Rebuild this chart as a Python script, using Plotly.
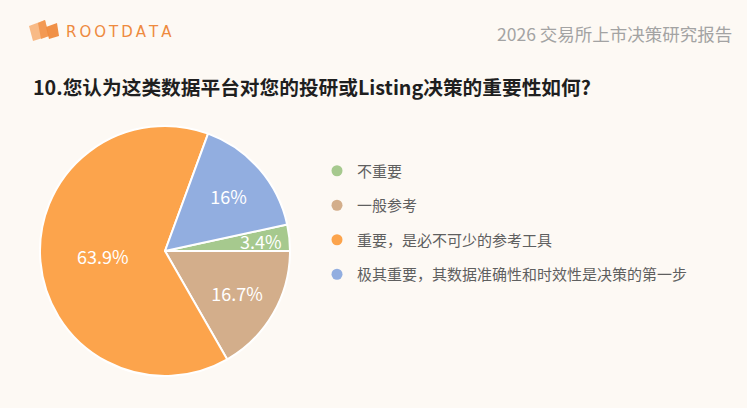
import math
import plotly.graph_objects as go

# ---- data ----
categories = ["不重要", "一般参考", "重要，是必不可少的参考工具", "极其重要，其数据准确性和时效性是决策的第一步"]
shares = [3.4, 16.7, 63.9, 16]
colors = ["#a6c98e", "#d3ae8b", "#fca44c", "#92aee0"]

title_text = "10.您认为这类数据平台对您的投研或Listing决策的重要性如何?"
report_text = "2026 交易所上市决策研究报告"
brand_text = "\u2009".join("ROOTDATA")

W, H = 747, 408
BG = "#fdf9f4"
CJK = "Noto Sans CJK SC"

fig = go.Figure()

# pie
cx, cy, r = 165, 251, 125
rotation = 90 - shares[0] / sum(shares) * 360
fig.add_trace(go.Pie(
    labels=categories,
    values=shares,
    sort=False,
    direction="clockwise",
    rotation=rotation,
    marker=dict(colors=colors, line=dict(color="white", width=2)),
    texttemplate=[""] + ["%{value}%"] * (len(shares) - 1),
    textposition="inside",
    insidetextorientation="horizontal",
    textfont=dict(color="white", size=18, family=CJK),
    showlegend=False,
    hoverinfo="label+value",
    domain=dict(x=[(cx - r) / W, (cx + r) / W], y=[(H - cy - r) / H, (H - cy + r) / H]),
))

# label of the thin first slice, placed at its mid-angle (computed from the data)
mid = math.radians(rotation + shares[0] / sum(shares) * 360 / 2)
fig.add_annotation(x=cx + 0.77 * r * math.sin(mid), y=cy - 0.77 * r * math.cos(mid),
                   text=f"{shares[0]}%", showarrow=False, xanchor="center", yanchor="middle",
                   font=dict(family=CJK, size=18, color="white"))

# legend entries with round markers
for name, c in zip(categories, colors):
    fig.add_trace(go.Scatter(
        x=[None], y=[None], mode="markers", name=name, legendgroup=name,
        marker=dict(color=c, size=11, symbol="circle"),
        hoverinfo="skip",
    ))

# logo icon
fig.add_shape(type="path", path="M 29,26 L 45,20 L 49,36 L 33,41 Z",
              fillcolor="#f7b27a", line=dict(width=0), opacity=0.9, layer="above")
fig.add_shape(type="path", path="M 38,23 L 45,20 L 49,36 L 41,39 Z",
              fillcolor="#f2964e", line=dict(width=0), opacity=0.9, layer="above")
fig.add_shape(type="path", path="M 46,27 L 57,23 L 59,36 L 49,39 Z",
              fillcolor="#ef8a3c", line=dict(width=0), opacity=0.95, layer="above")

fig.add_annotation(x=64, y=32, text=brand_text, showarrow=False, xanchor="left", yanchor="middle",
                   font=dict(family="DejaVu Sans", size=15, color="#ee8a3e"))
fig.add_annotation(x=734, y=33, text=report_text, showarrow=False, xanchor="right", yanchor="middle",
                   font=dict(family=CJK, size=17.5, color="#a3a3a3"))
fig.add_annotation(x=31, y=86, text="<b>" + title_text + "</b>", showarrow=False,
                   xanchor="left", yanchor="middle",
                   font=dict(family=CJK, size=19.7, color="#1f1f1f"))

fig.update_layout(
    width=W, height=H,
    margin=dict(l=0, r=0, t=0, b=0),
    paper_bgcolor=BG, plot_bgcolor=BG,
    xaxis=dict(range=[0, W], visible=False, fixedrange=True, domain=[0, 1]),
    yaxis=dict(range=[H, 0], visible=False, fixedrange=True, domain=[0, 1]),
    showlegend=True,
    legend=dict(
        x=317 / W, y=1 - 154.5 / H, xanchor="left", yanchor="top",
        font=dict(family=CJK, size=15, color="#5f5f5f"),
        traceorder="grouped", tracegroupgap=12,
        bgcolor="rgba(0,0,0,0)", itemclick=False, itemdoubleclick=False,
    ),
)

fig.write_html("out.html", config={"displayModeBar": False},
               post_script="document.body.style.margin='0';")
